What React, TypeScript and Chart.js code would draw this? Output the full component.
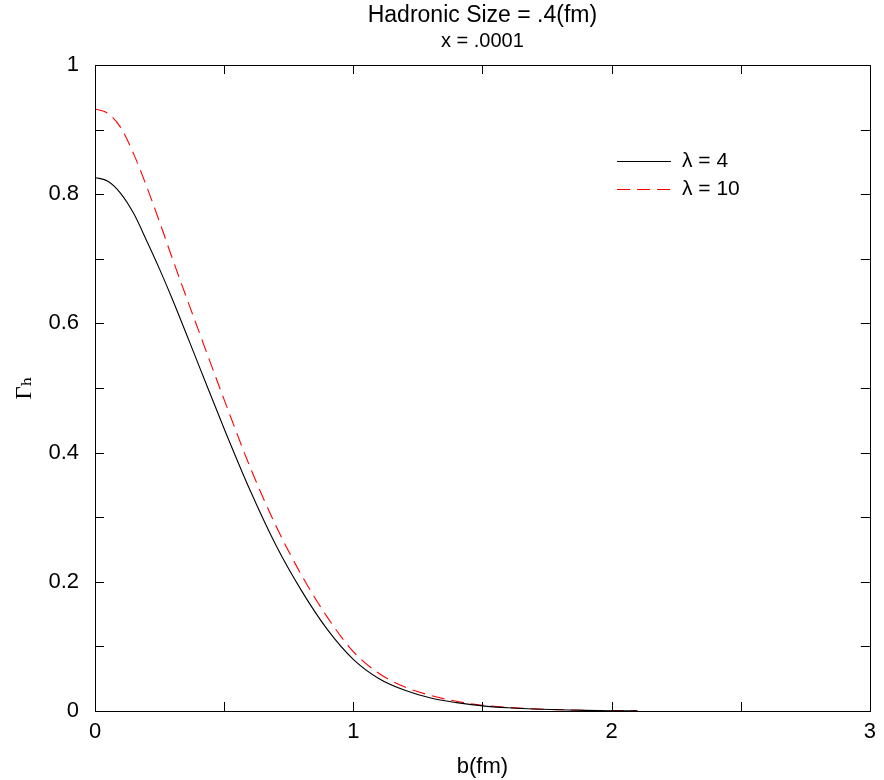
import { useEffect, useRef } from "react";
import { Chart, registerables } from "chart.js";

Chart.register(...registerables);

// ---- data ----
const bValues = [0, 0.05, 0.1, 0.15, 0.2, 0.25, 0.3, 0.4, 0.5, 0.6, 0.7, 0.8, 0.9, 1.0, 1.1, 1.2, 1.3, 1.4, 1.5, 1.6, 1.7, 1.8, 1.9, 2.0, 2.1];
const gammaLambda4 = [0.826, 0.820, 0.801, 0.770, 0.728, 0.684, 0.637, 0.537, 0.437, 0.342, 0.257, 0.186, 0.126, 0.080, 0.050, 0.032, 0.020, 0.013, 0.008, 0.005, 0.003, 0.002, 0.001, 0.0005, 0.0003];
const gammaLambda10 = [0.932, 0.925, 0.903, 0.862, 0.812, 0.757, 0.700, 0.590, 0.482, 0.378, 0.287, 0.210, 0.145, 0.092, 0.058, 0.037, 0.024, 0.015, 0.009, 0.0055, 0.0033, 0.002, 0.001, 0.0006, 0.0003];
const seriesLabels = ["λ = 4", "λ = 10"];
const xTickLabels = ["0", "1", "2", "3"];
const yTickLabels = ["0", "0.2", "0.4", "0.6", "0.8", "1"];
const titleText = "Hadronic Size = .4(fm)";
const subtitleText = "x = .0001";
const xAxisTitle = "b(fm)";
const yAxisTitle = "Γₕ";

const SANS = "'Liberation Sans', Arial, Helvetica, sans-serif";

const frameAndLegend = {
  id: "frameAndLegend",
  afterDraw(chart: any) {
    const { ctx, chartArea, scales } = chart;
    const { left, right, top, bottom } = chartArea;
    const xs = scales.x;
    const ys = scales.y;
    const tick = 9;
    ctx.save();
    ctx.strokeStyle = "#000";
    ctx.lineWidth = 1;
    ctx.setLineDash([]);
    ctx.beginPath();
    for (const t of xs.ticks) {
      const px = Math.round(xs.getPixelForValue(t.value)) + 0.5;
      ctx.moveTo(px, bottom);
      ctx.lineTo(px, bottom - tick);
      ctx.moveTo(px, top);
      ctx.lineTo(px, top + tick);
    }
    for (const t of ys.ticks) {
      const py = Math.round(ys.getPixelForValue(t.value)) + 0.5;
      ctx.moveTo(left, py);
      ctx.lineTo(left + tick, py);
      ctx.moveTo(right, py);
      ctx.lineTo(right - tick, py);
    }
    ctx.stroke();
    ctx.strokeRect(Math.round(left) + 0.5, Math.round(top) + 0.5, Math.round(right - left), Math.round(bottom - top));

    // legend
    const lx0 = 617;
    const lx1 = 671;
    const ly = [161, 189];
    ctx.font = `21px ${SANS}`;
    ctx.textBaseline = "middle";
    ctx.textAlign = "left";
    ctx.fillStyle = "#000";
    chart.data.datasets.forEach((ds: any, i: number) => {
      ctx.beginPath();
      ctx.strokeStyle = ds.borderColor;
      ctx.lineWidth = ds.borderWidth;
      ctx.setLineDash(ds.borderDash || []);
      ctx.moveTo(lx0, ly[i] + 0.5);
      ctx.lineTo(lx1, ly[i] + 0.5);
      ctx.stroke();
      ctx.fillText(ds.label, 682, ly[i]);
    });
    ctx.restore();
  },
};

function labelFor(list: string[], value: number) {
  const s = list.find((l) => Math.abs(parseFloat(l) - value) < 1e-6);
  return s === undefined ? "" : s;
}

export default function App() {
  const ref = useRef<HTMLCanvasElement>(null);
  useEffect(() => {
    if (!ref.current) return;
    Chart.defaults.font.family = SANS;
    Chart.defaults.color = "#000";
    const chart = new Chart(ref.current, {
      type: "line",
      data: {
        datasets: [
          {
            label: seriesLabels[0],
            data: bValues.map((b, i) => ({ x: b, y: gammaLambda4[i] })),
            borderColor: "#000000",
            borderWidth: 1.1,
            pointRadius: 0,
            cubicInterpolationMode: "monotone",
            fill: false,
          },
          {
            label: seriesLabels[1],
            data: bValues.map((b, i) => ({ x: b, y: gammaLambda10[i] })),
            borderColor: "#ff0000",
            borderWidth: 1.1,
            borderDash: [13, 7],
            pointRadius: 0,
            cubicInterpolationMode: "monotone",
            fill: false,
          },
        ],
      },
      options: {
        responsive: false,
        animation: false,
        layout: { padding: { left: 0, right: 10, top: 0, bottom: 0 } },
        plugins: {
          legend: { display: false },
          tooltip: { enabled: false },
          title: {
            display: true,
            fullSize: false,
            text: titleText,
            color: "#000",
            font: { size: 23, weight: "normal", family: SANS },
            padding: { top: 2, bottom: 0 },
          },
          subtitle: {
            display: true,
            fullSize: false,
            text: subtitleText,
            color: "#000",
            font: { size: 20, weight: "normal", family: SANS },
            padding: { top: 0, bottom: 11.4 },
          },
        },
        scales: {
          x: {
            type: "linear",
            min: 0,
            max: 3,
            grid: { display: false, drawTicks: false },
            border: { display: false },
            ticks: {
              stepSize: 0.5,
              padding: 8,
              maxRotation: 0,
              autoSkip: false,
              font: { size: 22 },
              color: "#000",
              callback: (v: any) => labelFor(xTickLabels, Number(v)),
            },
            title: {
              display: true,
              text: xAxisTitle,
              color: "#000",
              font: { size: 22 },
              padding: { top: 0, bottom: 0 },
            },
            afterFit: (s: any) => {
              s.height = 69;
            },
          },
          y: {
            type: "linear",
            min: 0,
            max: 1,
            grid: { display: false, drawTicks: false },
            border: { display: false },
            ticks: {
              stepSize: 0.1,
              padding: 16,
              autoSkip: false,
              font: { size: 22 },
              color: "#000",
              callback: (v: any) => labelFor(yTickLabels, Number(v)),
            },
            title: {
              display: true,
              text: yAxisTitle,
              color: "#000",
              font: { size: 23, family: "'Liberation Serif', 'DejaVu Serif', serif" },
              padding: { top: 11, bottom: 0 },
            },
            afterFit: (s: any) => {
              s.width = 95;
            },
          },
        },
      },
      plugins: [frameAndLegend],
    });
    return () => chart.destroy();
  }, []);
  return (
    <div style={{ position: "fixed", left: 0, top: 0, width: 884, height: 780, background: "#fff" }}>
      <canvas ref={ref} width={884} height={780} style={{ display: "block" }} />
    </div>
  );
}
